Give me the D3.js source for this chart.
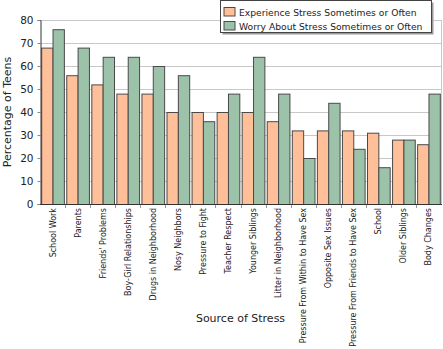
<!DOCTYPE html>
<html>
<head>
<meta charset="utf-8">
<script src="https://cdn.jsdelivr.net/npm/d3@7/dist/d3.min.js"></script>
<style>
  html, body { margin: 0; padding: 0; background: #fff; }
  svg { display: block; font-family: "DejaVu Sans", Verdana, sans-serif; }
</style>
</head>
<body>
<svg id="chart" width="443" height="349"></svg>
<script>
// Sources of stress reported by teens
const categories = [
  "School Work", "Parents", "Friends' Problems", "Boy-Girl Relationships",
  "Drugs in Neighborhood", "Nosy Neighbors", "Pressure to Fight", "Teacher Respect",
  "Younger Siblings", "Litter in Neighborhood", "Pressure From Within to Have Sex",
  "Opposite Sex Issues", "Pressure From Friends to Have Sex", "School",
  "Older Siblings", "Body Changes"
];
const experience = [68, 56, 52, 48, 48, 40, 40, 40, 40, 36, 32, 32, 32, 31, 28, 26];
const worry      = [76, 68, 64, 64, 60, 56, 36, 48, 64, 48, 20, 44, 24, 16, 28, 48];
const seriesNames = ["Experience Stress Sometimes or Often", "Worry About Stress Sometimes or Often"];
const seriesColors = ["#ffbf99", "#9cc2a9"];
const yTicks = [0, 10, 20, 30, 40, 50, 60, 70, 80];

const svg = d3.select("#chart");
const plot = { left: 40, right: 441, top: 20, bottom: 204 };

const x = d3.scaleBand().domain(categories).range([plot.left, plot.right]).paddingInner(0).paddingOuter(0);
const inner = d3.scaleBand().domain([0, 1]).range([0, x.bandwidth()]).paddingOuter(0.105).paddingInner(0);
const y = d3.scaleLinear().domain([0, 80]).range([plot.bottom, plot.top]);

// gridlines
svg.append("g")
  .selectAll("line").data(yTicks.filter(d => d > 0)).join("line")
  .attr("x1", plot.left).attr("x2", plot.right)
  .attr("y1", d => Math.round(y(d)) + 0.5).attr("y2", d => Math.round(y(d)) + 0.5)
  .attr("stroke", "#c8c8c8").attr("stroke-width", 1);

// right plot border
svg.append("line")
  .attr("x1", plot.right + 0.5).attr("x2", plot.right + 0.5)
  .attr("y1", plot.top).attr("y2", plot.bottom)
  .attr("stroke", "#c8c8c8");

// bars
const rows = categories.map((c, i) => ({ c, v: [experience[i], worry[i]] }));
const groups = svg.append("g").selectAll("g").data(rows).join("g")
  .attr("transform", d => `translate(${x(d.c)},0)`);
groups.selectAll("rect").data(d => d.v.map((v, k) => ({ k, v }))).join("rect")
  .attr("x", d => inner(d.k) + 0.5)
  .attr("width", inner.bandwidth())
  .attr("y", d => y(d.v) + 0.5)
  .attr("height", d => y(0) - y(d.v))
  .attr("fill", d => seriesColors[d.k])
  .attr("stroke", "#4a4a4a").attr("stroke-width", 1);

// y axis
const yAxis = svg.append("g")
  .attr("transform", `translate(${plot.left + 0.5},0)`)
  .call(d3.axisLeft(y).tickValues(yTicks).tickSize(3).tickPadding(4));
yAxis.select(".domain").attr("stroke", "#333");
yAxis.selectAll(".tick line").attr("stroke", "#888");
yAxis.selectAll("text").attr("font-size", 10.5).attr("fill", "#222").attr("font-family", "DejaVu Sans, sans-serif");

// x axis baseline and group ticks
svg.append("line")
  .attr("x1", plot.left).attr("x2", plot.right + 1)
  .attr("y1", plot.bottom + 0.5).attr("y2", plot.bottom + 0.5)
  .attr("stroke", "#333");
svg.append("g").selectAll("line").data(categories.slice(1)).join("line")
  .attr("x1", d => Math.round(x(d)) + 0.5).attr("x2", d => Math.round(x(d)) + 0.5)
  .attr("y1", plot.bottom + 1).attr("y2", plot.bottom + 4)
  .attr("stroke", "#999");

// category labels
svg.append("g").selectAll("text").data(categories).join("text")
  .attr("transform", d => `translate(${x(d) + x.bandwidth() / 2 + 3},${plot.bottom + 4}) rotate(-90)`)
  .attr("text-anchor", "end")
  .attr("font-size", 8)
  .attr("fill", "#222")
  .text(d => d);

// axis titles
svg.append("text")
  .attr("transform", `translate(${11},${(plot.top + plot.bottom) / 2}) rotate(-90)`)
  .attr("text-anchor", "middle")
  .attr("font-size", 11).attr("fill", "#222")
  .text("Percentage of Teens");
svg.append("text")
  .attr("x", (plot.left + plot.right) / 2).attr("y", 322)
  .attr("text-anchor", "middle")
  .attr("font-size", 11).attr("fill", "#222")
  .text("Source of Stress");

// legend
const legend = svg.append("g").attr("transform", "translate(220.5,0.5)");
legend.append("rect").attr("x", 2).attr("y", 2).attr("width", 211).attr("height", 32).attr("fill", "#9a9a9a");
legend.append("rect").attr("width", 211).attr("height", 32).attr("fill", "#fff").attr("stroke", "#444");
seriesNames.forEach((name, k) => {
  legend.append("rect")
    .attr("x", 3.5).attr("y", 7 + k * 14).attr("width", 11).attr("height", 8.5)
    .attr("fill", seriesColors[k]).attr("stroke", "#4a4a4a");
  legend.append("text")
    .attr("x", 18.5).attr("y", 15 + k * 14)
    .attr("font-size", 9.2).attr("fill", "#222")
    .text(name);
});
</script>
</body>
</html>
